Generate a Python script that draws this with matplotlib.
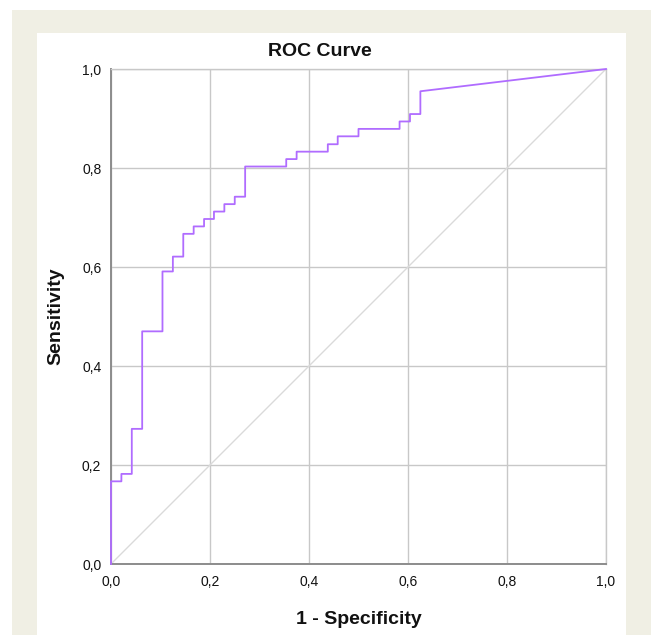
import matplotlib
matplotlib.use("Agg")
import matplotlib.pyplot as plt
from matplotlib.patches import Rectangle

# ROC curve vertices (1 - specificity, sensitivity)
fpr = [0.0, 0.0, 0.021, 0.021, 0.042, 0.042, 0.063, 0.063, 0.104, 0.104,
       0.125, 0.125, 0.146, 0.146, 0.167, 0.167, 0.188, 0.188, 0.208, 0.208,
       0.229, 0.229, 0.250, 0.250, 0.271, 0.271, 0.354, 0.354, 0.375, 0.375,
       0.438, 0.438, 0.458, 0.458, 0.500, 0.500, 0.583, 0.583, 0.604, 0.604,
       0.625, 0.625, 1.0]
tpr = [0.0, 0.167, 0.167, 0.182, 0.182, 0.273, 0.273, 0.470, 0.470, 0.591,
       0.591, 0.621, 0.621, 0.667, 0.667, 0.682, 0.682, 0.697, 0.697, 0.712,
       0.712, 0.727, 0.727, 0.742, 0.742, 0.803, 0.803, 0.818, 0.818, 0.833,
       0.833, 0.848, 0.848, 0.864, 0.864, 0.879, 0.879, 0.894, 0.894, 0.909,
       0.909, 0.955, 1.0]
ref_line = [0.0, 1.0]
ticks = [0.0, 0.2, 0.4, 0.6, 0.8, 1.0]
tick_labels = ["0,0", "0,2", "0,4", "0,6", "0,8", "1,0"]

plt.rcParams['font.family'] = ['Liberation Sans', 'DejaVu Sans']

W, H = 651, 635
fig = plt.figure(figsize=(W / 100, H / 100), dpi=100)
fig.patch.set_facecolor('white')

# beige frame and white panel (SPSS viewer look)
fig.patches.append(Rectangle((12 / W, 0), 1 - 12 / W, (H - 10) / H,
                             transform=fig.transFigure, facecolor='#f0efe4',
                             edgecolor='none', zorder=-2))
fig.patches.append(Rectangle((37 / W, 0), (626 - 37) / W, (H - 33) / H,
                             transform=fig.transFigure, facecolor='white',
                             edgecolor='none', zorder=-1))

left, right, top, bottom = 111, 606, 69, 564
ax = fig.add_axes([left / W, 1 - bottom / H, (right - left) / W, (bottom - top) / H])
ax.set_facecolor('white')

ax.set_xlim(0, 1)
ax.set_ylim(0, 1)
ax.set_xticks(ticks)
ax.set_yticks(ticks)
ax.set_xticklabels(tick_labels)
ax.set_yticklabels(tick_labels)
ax.tick_params(length=0, labelsize=10, colors='#111111')
ax.tick_params(axis='x', pad=8)
ax.tick_params(axis='y', pad=7)

ax.grid(True, color='#c8c8c8', linewidth=1.0)
ax.set_axisbelow(True)

for s in ['top', 'right']:
    ax.spines[s].set_color('#c8c8c8')
    ax.spines[s].set_linewidth(1.0)
for s in ['left', 'bottom']:
    ax.spines[s].set_color('#8c8c8c')
    ax.spines[s].set_linewidth(1.4)

ax.plot(ref_line, ref_line, color='#dadada', linewidth=1.0, zorder=2)
ax.plot(fpr, tpr, color='#b06cff', linewidth=1.3, zorder=3, clip_on=False)

fig.text(320 / W, 1 - 52 / H, "ROC Curve", ha='center', va='center',
         fontsize=14, fontweight='bold', color='#111111')
fig.text(359 / W, 1 - 619 / H, "1 - Specificity", ha='center', va='center',
         fontsize=14, fontweight='bold', color='#111111')
fig.text(56 / W, 1 - 316 / H, "Sensitivity", ha='center', va='center',
         rotation=90, fontsize=14, fontweight='bold', color='#111111')

fig.savefig("out.png", dpi=100)
